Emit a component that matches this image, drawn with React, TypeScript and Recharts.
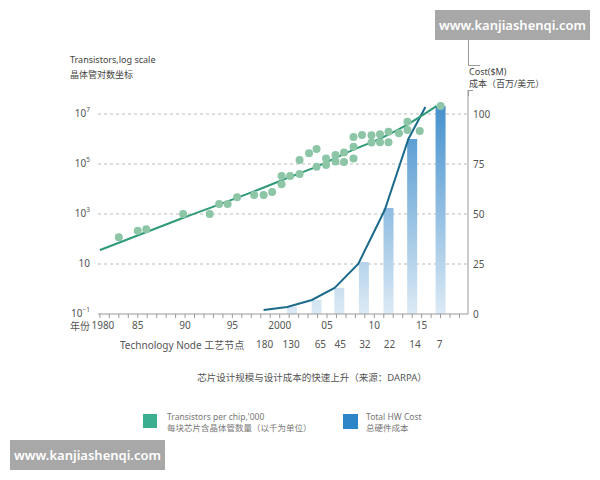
import React from 'react';
import {
  ComposedChart,
  Bar,
  Line,
  Scatter,
  XAxis,
  YAxis,
  CartesianGrid,
} from 'recharts';

const FONT = "'Noto Sans', 'Noto Sans CJK SC', sans-serif";

// x axis: years (minor tick every year) and technology nodes
const yearTicks = Array.from({ length: 39 }, (_, i) => 1981 + i);
const yearLabelAt = [1981, 1985, 1990, 1995, 2000, 2005, 2010, 2015];
const yearLabelText = ['1980', '85', '90', '95', '2000', '05', '10', '15'];
const nodeYears = [1998.4, 2001.2, 2004.3, 2006.4, 2009.0, 2011.6, 2014.3, 2016.9];
const nodeLabels = ['180', '130', '65', '45', '32', '22', '14', '7'];

// y axes
const logTicks = [0.1, 10, 1e3, 1e5, 1e7];
const logTickExp = ['−1', '', '3', '5', '7'];
const costTicks = [0, 25, 50, 75, 100];
const gridValues = [25, 50, 75, 100];

// transistors per chip ('000), dots
const chipYears = [
  1983.0, 1985.0, 1985.9, 1989.8, 1992.6, 1993.6, 1994.5, 1995.5, 1997.3, 1998.3,
  1999.2, 2000.2, 2000.2, 2001.1, 2002.1, 2002.1, 2003.1, 2003.9, 2003.9, 2004.9,
  2004.9, 2005.9, 2005.9, 2006.8, 2006.8, 2007.8, 2007.8, 2007.8, 2008.7, 2009.7,
  2009.7, 2010.6, 2010.6, 2011.5, 2011.5, 2012.6, 2013.5, 2013.5, 2014.8, 2017.0,
];
const chipCounts = [
  117, 215, 245, 1000, 1000, 2500, 2500, 4700, 5800, 5800,
  7600, 33000, 15500, 33000, 40000, 145000, 270000, 400000, 78000, 166000,
  91000, 230000, 126000, 290000, 120000, 1.2e6, 490000, 166000, 1.45e6, 1.4e6,
  720000, 1.55e6, 740000, 1.95e6, 740000, 1.7e6, 4.9e6, 2.3e6, 2.1e6, 2.1e7,
];

// transistor trend line
const trendYears = [1981.0, 1989.75, 1996.8, 2000.3, 2003.9, 2007.7, 2010.9, 2013.4, 2016.6];
const trendCounts = [36, 690, 6800, 23000, 78000, 360000, 1.17e6, 3.6e6, 2.1e7];

// total HW cost ($M)
const costLineYears = [1998.3, 2000.8, 2003.4, 2005.8, 2008.3, 2011.1, 2013.6, 2015.4];
const costLineValues = [2, 3.5, 7, 13, 25, 52, 87.5, 103.5];
const barYears = [2001.3, 2003.9, 2006.3, 2008.9, 2011.5, 2014.0, 2017.0];
const barCosts = [3.5, 7, 13, 26, 53, 87.5, 104];

const barData = barYears.map((year, i) => ({ year, cost: barCosts[i] }));
const costLineData = costLineYears.map((year, i) => ({ year, cost: costLineValues[i] }));
const chipData = chipYears.map((year, i) => ({ year, n: chipCounts[i] }));
const trendData = trendYears.map((year, i) => ({ year, n: trendCounts[i] }));

const YearTick = ({ x, y, payload }: any) => {
  const i = yearLabelAt.indexOf(payload.value);
  if (i < 0) return null;
  return (
    <text x={x + (i === 0 ? 3 : 0)} y={y} dy={9} textAnchor="middle" fill="#555" fontSize={10}>
      {yearLabelText[i]}
    </text>
  );
};

const NodeTick = ({ x, y, payload }: any) => {
  const i = nodeYears.indexOf(payload.value);
  return (
    <text x={x} y={y} dy={12} textAnchor="middle" fill="#555" fontSize={10}>
      {nodeLabels[i]}
    </text>
  );
};

const LogTick = ({ x, y, payload }: any) => {
  const exp = logTickExp[logTicks.indexOf(payload.value)];
  return (
    <text x={x} y={y} dy={3} textAnchor="end" fill="#555" fontSize={10}>
      10
      {exp ? (
        <tspan dy={-5} fontSize={6.5}>
          {exp}
        </tspan>
      ) : null}
    </text>
  );
};

// bar drawn 10px wide, centred on the x the library gives
const CostBar = (p: any) => (
  <rect x={p.x + p.width / 2 - 5} y={p.y} width={10} height={p.height} fill="url(#costBar)" />
);

const txt = (left: number, top: number, size: number, color = '#555') => ({
  position: 'absolute' as const,
  left,
  top,
  fontSize: size,
  color,
  lineHeight: 1,
  whiteSpace: 'nowrap' as const,
});

const watermark = (left: number, top: number) => ({
  position: 'absolute' as const,
  left,
  top,
  width: 155,
  height: 30,
  background: '#a8a8a8',
  color: '#fff',
  fontSize: 13,
  fontWeight: 600,
  display: 'flex',
  alignItems: 'center',
  justifyContent: 'center',
});

export default function App() {
  return (
    <div
      style={{
        position: 'absolute',
        left: 0,
        top: 0,
        width: 600,
        height: 480,
        background: '#fff',
        fontFamily: FONT,
      }}
    >
      <ComposedChart
        width={600}
        height={480}
        data={barData}
        margin={{ top: 90, right: 72, left: 0, bottom: 116 }}
        style={{ fontFamily: FONT }}
      >
        <defs>
          <linearGradient id="costBar" gradientUnits="userSpaceOnUse" x1="0" y1="95" x2="0" y2="314">
            <stop offset="0%" stopColor="#3d8ccb" />
            <stop offset="100%" stopColor="#dceaf5" />
          </linearGradient>
        </defs>
        <CartesianGrid
          xAxisId="a1"
          yAxisId="cost"
          vertical={false}
          horizontalValues={gridValues}
          stroke="#bbb"
          strokeDasharray="3 3"
        />
        <XAxis
          xAxisId="a1"
          dataKey="year"
          type="number"
          domain={[1980.8, 2019.9]}
          allowDataOverflow
          ticks={yearTicks}
          interval={0}
          tickSize={4}
          stroke="#999"
          tick={<YearTick />}
          height={20}
        />
        <XAxis
          xAxisId="a2"
          dataKey="year"
          type="number"
          domain={[1980.8, 2019.9]}
          allowDataOverflow
          ticks={nodeYears}
          interval={0}
          axisLine={false}
          tickLine={false}
          tickSize={0}
          tickMargin={2}
          tick={<NodeTick />}
          height={30}
        />
        <YAxis
          yAxisId="tr"
          dataKey="n"
          scale="log"
          domain={[0.1, 10 ** 7.96]}
          allowDataOverflow
          ticks={logTicks}
          interval={0}
          axisLine={false}
          tickLine={false}
          tick={<LogTick />}
          width={98}
        />
        <YAxis
          yAxisId="cost"
          orientation="right"
          domain={[0, 112]}
          allowDataOverflow
          ticks={costTicks}
          interval={0}
          stroke="#999"
          tickLine={false}
          tickSize={3}
          tick={{ fill: '#555', fontSize: 10 }}
          width={60}
        />
        <Bar
          xAxisId="a1"
          yAxisId="cost"
          dataKey="cost"
          shape={<CostBar />}
          fill="url(#costBar)"
          isAnimationActive={false}
        />
        <Line
          xAxisId="a1"
          yAxisId="cost"
          data={costLineData}
          dataKey="cost"
          type="linear"
          stroke="#1d6b8c"
          strokeWidth={2}
          dot={false}
          activeDot={false}
          isAnimationActive={false}
        />
        <Scatter
          xAxisId="a1"
          yAxisId="tr"
          data={chipData}
          dataKey="n"
          fill="#86c3a3"
          shape={(p: any) => <circle cx={p.cx} cy={p.cy} r={4} fill="#8cc6a7" />}
          isAnimationActive={false}
        />
        <Line
          xAxisId="a1"
          yAxisId="tr"
          data={trendData}
          dataKey="n"
          type="monotone"
          stroke="#2e9a76"
          strokeWidth={2}
          dot={false}
          activeDot={false}
          isAnimationActive={false}
        />
      </ComposedChart>

      <svg
        width={600}
        height={480}
        style={{ position: 'absolute', left: 0, top: 0, pointerEvents: 'none' }}
      >
        <path d="M468.5 40 V65.5 H480" fill="none" stroke="#999" />
        <path d="M473 90.5 H468.5 V96" fill="none" stroke="#999" />
      </svg>

      <div style={txt(70, 55, 9, '#444')}>Transistors,log scale</div>
      <div style={txt(70, 70, 9, '#444')}>晶体管对数坐标</div>
      <div style={txt(469, 67, 9, '#444')}>Cost($M)</div>
      <div style={txt(469, 79, 9, '#444')}>成本（百万/美元）</div>
      <div style={txt(70, 321, 10)}>年份</div>
      <div style={txt(120, 340, 10)}>Technology Node 工艺节点</div>
      <div style={{ ...txt(0, 373, 9.5), width: 624, textAlign: 'center' }}>
        芯片设计规模与设计成本的快速上升（来源：DARPA）
      </div>

      <div
        style={{
          position: 'absolute',
          left: 143,
          top: 414,
          width: 14,
          height: 14,
          background: '#3aae8e',
        }}
      />
      <div style={txt(167, 413, 8.5, '#777')}>Transistors per chip,'000</div>
      <div style={txt(167, 424, 8.5, '#777')}>每块芯片含晶体管数量（以千为单位）</div>
      <div
        style={{
          position: 'absolute',
          left: 343,
          top: 414,
          width: 15,
          height: 15,
          background: '#2b85c6',
        }}
      />
      <div style={txt(366, 413, 8.5, '#777')}>Total HW Cost</div>
      <div style={txt(366, 424, 8.5, '#777')}>总硬件成本</div>

      <div style={watermark(435, 10)}>www.kanjiashenqi.com</div>
      <div style={watermark(10, 440)}>www.kanjiashenqi.com</div>
    </div>
  );
}
